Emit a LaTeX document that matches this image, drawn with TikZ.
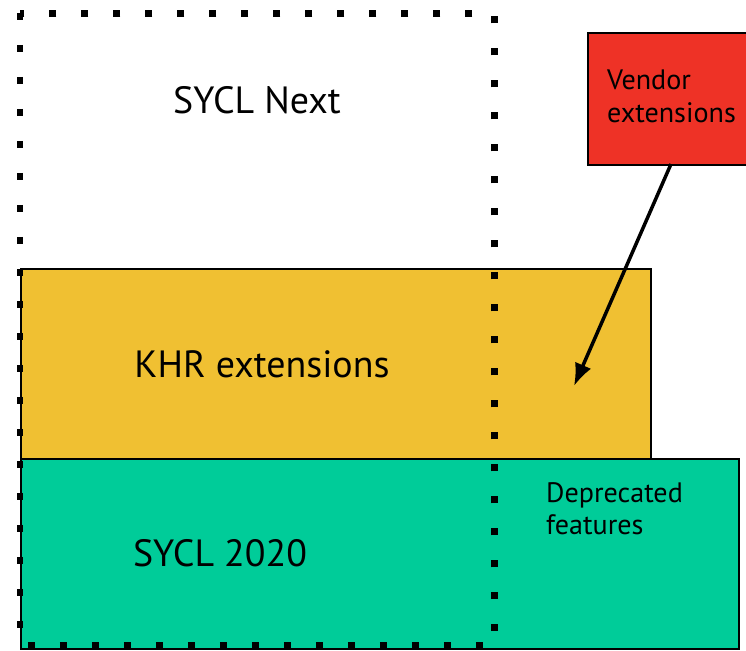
\documentclass[tikz,border=0pt]{standalone}
\usepackage{fontspec}
\setmainfont{PT Sans}
\usetikzlibrary{arrows.meta}
\definecolor{khr}{RGB}{240,192,50}
\definecolor{sycl}{RGB}{0,204,153}
\definecolor{vendor}{RGB}{238,50,38}
\tikzset{
  layer/.style={draw=black, line width=0.04cm, anchor=north west, inner sep=0pt},
  big/.style={font=\fontsize{21.6}{26}\selectfont},
  small/.style={font=\fontsize{16}{18.5}\selectfont, align=left, anchor=north west}
}
\begin{document}
\begin{tikzpicture}[x=0.02cm,y=-0.02cm]
				\useasboundingbox (0,0) rectangle (746,650);
				\node[layer, fill=sycl, minimum width=718*0.02cm, minimum height=190*0.02cm] (sycl) at (20,458) {};
				\node[layer, fill=khr, minimum width=630*0.02cm, minimum height=190*0.02cm] (khr) at (20,268) {};
				\node[layer, fill=vendor, minimum width=170*0.02cm, minimum height=132*0.02cm] (vendor) at (587,32) {};
				\draw[line width=0.14cm, dash pattern=on 0.14cm off 0.5cm] (20,13) rectangle (494,645);
				\node[big] (next) at (257,100) {SYCL Next};
				\node[big] (khrtext) at (262,364) {KHR extensions};
				\node[big] (sycltext) at (220,553) {SYCL 2020};
				\node[small] (vendortext) at (601,64) {Vendor\\extensions};
				\node[small] (deprecated) at (540,476) {Deprecated\\features};
				\coordinate (tip) at (574,386);
				\coordinate (tail) at (671,164);
				\draw[line width=0.07cm, -{Latex[length=0.45cm, width=0.35cm]}] (tail) -- (tip);
 			\end{tikzpicture}
\end{document}
